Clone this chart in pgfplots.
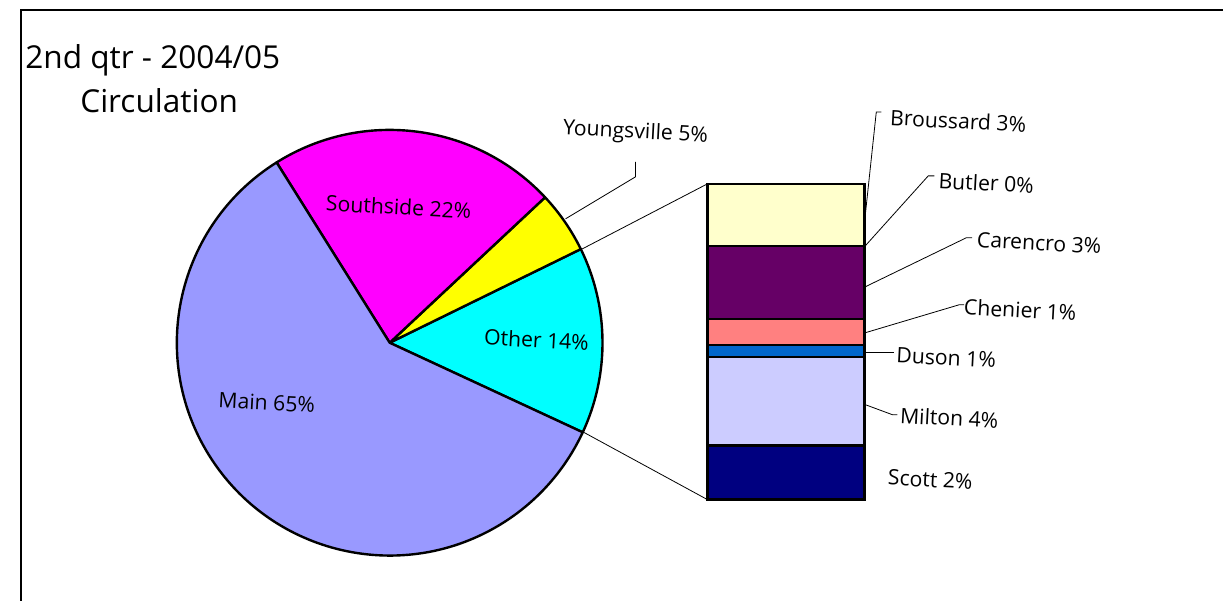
\documentclass[border=0pt]{standalone}
\usepackage{pgfplots}
\pgfplotsset{compat=1.18}
\usepackage{fontspec}
\setmainfont{Open Sans}
\definecolor{mainc}{HTML}{9999FF}
\definecolor{southc}{HTML}{FF00FF}
\definecolor{youngc}{HTML}{FFFF00}
\definecolor{otherc}{HTML}{00FFFF}
\definecolor{brouc}{HTML}{FFFFCC}
\definecolor{carc}{HTML}{660066}
\definecolor{chenc}{HTML}{FF8080}
\definecolor{dusc}{HTML}{0066CC}
\definecolor{milc}{HTML}{CCCCFF}
\definecolor{scoc}{HTML}{000080}
\begin{document}
\begin{tikzpicture}
\begin{axis}[x=0.5pt,y=0.5pt,xmin=0,xmax=1224,ymin=0,ymax=601,hide axis,clip=false]
\path (axis cs:0,0) rectangle (axis cs:1224,601);
\draw[line width=1pt] (axis cs:21,0) -- (axis cs:21,590.5) -- (axis cs:1224,590.5);
% pie slices: Other 14.17, Youngsville 4.72, Southside 21.94, Main 59.17 (percent of 360 deg)
\fill[fill=otherc,draw=black,line width=1.2pt,line join=round] (axis cs:390,258) -- ++(-24.9:106.5pt) arc[start angle=-24.9,end angle={-24.9+14.17*3.6},radius=106.5pt] -- cycle;
\fill[fill=youngc,draw=black,line width=1.2pt,line join=round] (axis cs:390,258) -- ++(26.1:106.5pt) arc[start angle=26.1,end angle={26.1+4.72*3.6},radius=106.5pt] -- cycle;
\fill[fill=southc,draw=black,line width=1.2pt,line join=round] (axis cs:390,258) -- ++(43.1:106.5pt) arc[start angle=43.1,end angle={43.1+21.94*3.6},radius=106.5pt] -- cycle;
\fill[fill=mainc,draw=black,line width=1.2pt,line join=round] (axis cs:390,258) -- ++(122.1:106.5pt) arc[start angle=122.1,end angle={122.1+59.17*3.6},radius=106.5pt] -- cycle;
% connectors
\draw[line width=0.4pt] (axis cs:581,351) -- (axis cs:708,417);
\draw[line width=0.4pt] (axis cs:583,169) -- (axis cs:708,101);
% leaders
\draw[line width=0.4pt] (axis cs:566,382) -- (axis cs:636,424) -- (axis cs:636,439);
\draw[line width=0.4pt] (axis cs:866,386) -- (axis cs:877,489) -- (axis cs:882,489);
\draw[line width=0.4pt] (axis cs:866,355) -- (axis cs:929,425) -- (axis cs:935,425);
\draw[line width=0.4pt] (axis cs:866,314) -- (axis cs:967,363) -- (axis cs:973,363);
\draw[line width=0.4pt] (axis cs:866,268) -- (axis cs:960,296) -- (axis cs:965,296);
\draw[line width=0.4pt] (axis cs:866,248) -- (axis cs:895,248);
\draw[line width=0.4pt] (axis cs:866,196) -- (axis cs:893,186) -- (axis cs:898,186);
% titles
\node[anchor=base west,inner sep=0pt,font=\fontsize{15.8}{18}\selectfont] at (axis cs:25,532) {2nd qtr - 2004/05};
\node[anchor=base west,inner sep=0pt,font=\fontsize{15.8}{18}\selectfont] at (axis cs:80,488) {Circulation};
% labels
\begin{scope}[every node/.style={inner sep=0pt,rotate=-3,font=\fontsize{10.6}{12}\selectfont}]
\node at (axis cs:399,394) {Southside 22\%};
\node at (axis cs:636,468) {Youngsville 5\%};
\node at (axis cs:537,261) {Other 14\%};
\node at (axis cs:267,198) {Main 65\%};
\node at (axis cs:959,480) {Broussard 3\%};
\node at (axis cs:987,418) {Butler 0\%};
\node at (axis cs:1040,358) {Carencro 3\%};
\node at (axis cs:1021,291) {Chenier 1\%};
\node at (axis cs:947,243) {Duson 1\%};
\node at (axis cs:950,183) {Milton 4\%};
\node at (axis cs:931,121) {Scott 2\%};
\end{scope}
\end{axis}
\begin{axis}[x=0.5pt,y=11.295pt,xmin=0,xmax=1224,ymin=-4.471,ymax=22.134,hide axis,clip=false,
  ybar stacked,bar width=78.5pt]
\addplot[fill=scoc,draw=black,line width=1.2pt] coordinates {(786.5,2.39)};
\addplot[fill=milc,draw=black,line width=1.2pt] coordinates {(786.5,3.94)};
\addplot[fill=dusc,draw=black,line width=1.2pt] coordinates {(786.5,0.53)};
\addplot[fill=chenc,draw=black,line width=1.2pt] coordinates {(786.5,1.15)};
\addplot[fill=carc,draw=black,line width=1.2pt] coordinates {(786.5,3.23)};
\addplot[fill=brouc,draw=black,line width=1.2pt] coordinates {(786.5,0)};
\addplot[fill=brouc,draw=black,line width=1.2pt] coordinates {(786.5,2.75)};
\end{axis}
\end{tikzpicture}
\end{document}
